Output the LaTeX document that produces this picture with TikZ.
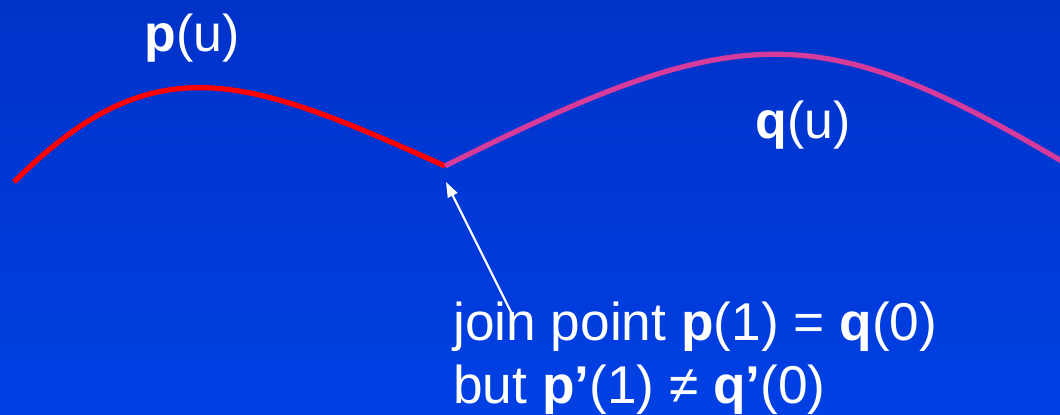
\documentclass[tikz,border=0pt]{standalone}
\usepackage{fontspec}
\setmainfont{Liberation Sans}
\usepackage{tikz}
\usetikzlibrary{arrows.meta,positioning,calc}
\definecolor{bgtop}{RGB}{0,50,200}
\definecolor{bgbot}{RGB}{0,64,228}
\definecolor{qpink}{RGB}{214,58,154}
\tikzset{
  curveline/.style={line width=3pt},
  lbl/.style={text=white, inner sep=0pt, anchor=base west,
              font=\fontsize{29.5pt}{35.7pt}\selectfont},
  note/.style={lbl, font=\fontsize{30.3pt}{35.7pt}\selectfont},
  pointer/.style={draw=white, line width=1.2pt,
                  -{Triangle[length=3mm, width=2.1mm]}},
}

\begin{document}
\begin{tikzpicture}[x=0.02cm, y=-0.02cm]
    \shade[top color=bgtop, bottom color=bgbot] (0,0) rectangle (1060,414);
    \useasboundingbox (0,0) rectangle (1060,414);
    \coordinate (pstart) at (14,182);
    \coordinate (joinpt) at (445,166);
    \coordinate (qend) at (1080,172);
    % the two segments
    \begin{scope}
      \clip (0,0) rectangle (1060,414);
      \draw[curveline, red] (pstart) .. controls (154,42) and (245,76) .. (joinpt);
      \draw[curveline, qpink] (joinpt) .. controls (745,16) and (820,16) .. (qend);
    \end{scope}
    % labels
    \node[lbl] (plbl) at (144,51) {\textbf{p}(u)};
    \node[lbl] (qlbl) at (755,138) {\textbf{q}(u)};
    \node[note] (joinlbl) at (453,340) {join point \textbf{p}(1) = \textbf{q}(0)};
    \node[note] (butlbl) at (453,403) {but \textbf{p’}(1) ≠ \textbf{q’}(0)};
    \coordinate (tail) at (511,312);
    \coordinate (tip) at (446,182);
    \draw[pointer] (tail) -- (tip);
\end{tikzpicture}
\end{document}
